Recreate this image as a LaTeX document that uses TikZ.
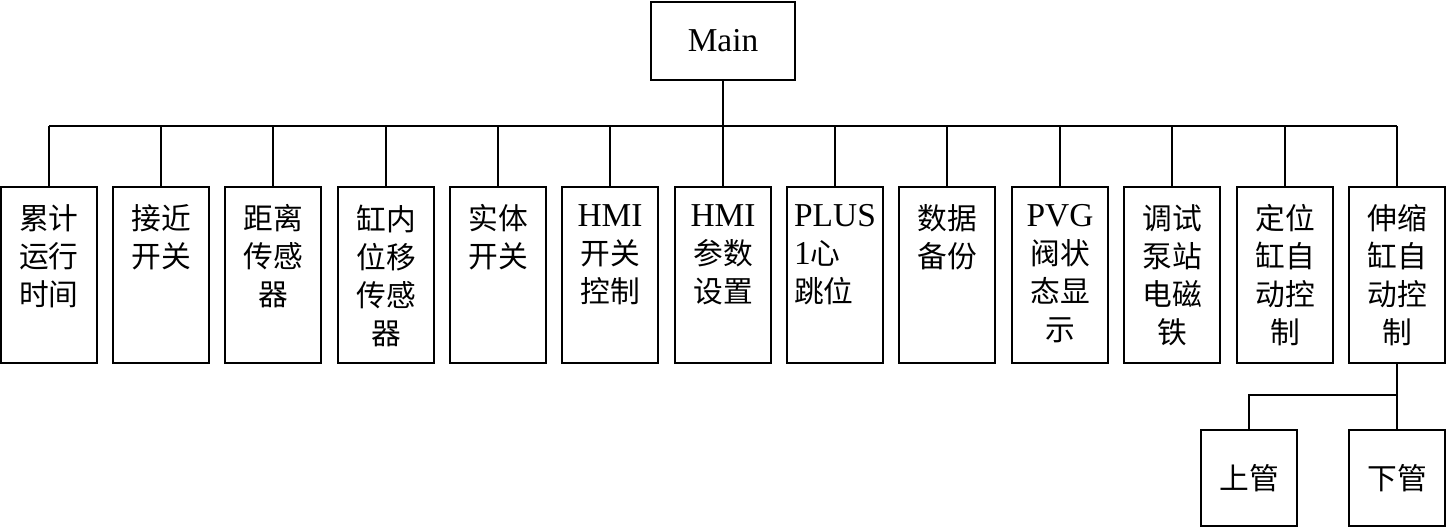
\documentclass[tikz,border=0pt]{standalone}
\usepackage{fontspec}
\setmainfont{Liberation Serif}
\newfontfamily\cjk[Scale=0.89]{Noto Sans CJK SC}

\begin{document}
\begin{tikzpicture}[x=0.01cm, y=-0.01cm,
      box/.style={draw, line width=0.6pt, minimum width=0.96cm, minimum height=1.76cm, anchor=north, inner sep=0pt},
      txt/.style={anchor=north, align=center, inner sep=0pt, yshift=-0.18cm, font=\fontsize{9.5}{10.8}\selectfont},
      line/.style={line width=0.5pt}
    ]
      \useasboundingbox (0,0) rectangle (1446,528);

      % Main
      \node[draw, line width=0.6pt, minimum width=1.44cm, minimum height=0.78cm, font=\fontsize{9.5}{10.8}\selectfont] (main) at (723,41) {Main};

      % Modules
      \node[box] (b1) at (49,186) {};
      \node[box] (b2) at (161,186) {};
      \node[box] (b3) at (273,186) {};
      \node[box] (b4) at (386,186) {};
      \node[box] (b5) at (498,186) {};
      \node[box] (b6) at (610,186) {};
      \node[box] (b7) at (723,186) {};
      \node[box] (b8) at (835,186) {};
      \node[box] (b9) at (947,186) {};
      \node[box] (b10) at (1060,186) {};
      \node[box] (b11) at (1172,186) {};
      \node[box] (b12) at (1285,186) {};
      \node[box] (b13) at (1397,186) {};

      % Module texts
      \node[txt] (t1) at (b1.north) {\cjk 累计\\\cjk 运行\\\cjk 时间};
      \node[txt] (t2) at (b2.north) {\cjk 接近\\\cjk 开关};
      \node[txt] (t3) at (b3.north) {\cjk 距离\\\cjk 传感\\\cjk 器};
      \node[txt] (t4) at (b4.north) {\cjk 缸内\\\cjk 位移\\\cjk 传感\\\cjk 器};
      \node[txt] (t5) at (b5.north) {\cjk 实体\\\cjk 开关};
      \node[txt] (t6) at (b6.north) {HMI\\\cjk 开关\\\cjk 控制};
      \node[txt] (t7) at (b7.north) {HMI\\\cjk 参数\\\cjk 设置};
      \node[txt, align=left] (t8) at (b8.north) {PLUS\\1{\cjk 心}\\\cjk 跳位};
      \node[txt] (t9) at (b9.north) {\cjk 数据\\\cjk 备份};
      \node[txt] (t10) at (b10.north) {PVG\\\cjk 阀状\\\cjk 态显\\\cjk 示};
      \node[txt] (t11) at (b11.north) {\cjk 调试\\\cjk 泵站\\\cjk 电磁\\\cjk 铁};
      \node[txt] (t12) at (b12.north) {\cjk 定位\\\cjk 缸自\\\cjk 动控\\\cjk 制};
      \node[txt] (t13) at (b13.north) {\cjk 伸缩\\\cjk 缸自\\\cjk 动控\\\cjk 制};

      % Sub modules
      \node[box, anchor=center, minimum height=0.96cm, font=\fontsize{9.5}{10.8}\selectfont] (up) at (1249,478) {\cjk 上管};
      \node[box, anchor=center, minimum height=0.96cm, font=\fontsize{9.5}{10.8}\selectfont] (down) at (1397,478) {\cjk 下管};

      % Lines
      \coordinate (bus) at (0,126);
      \coordinate (sub) at (0,395);
      \draw[line] (main.south) -- (main.south |- bus);
      \draw[line] (b1.north |- bus) -- (b13.north |- bus);
      \draw[line] (b1.north) -- (b1.north |- bus);
      \draw[line] (b2.north) -- (b2.north |- bus);
      \draw[line] (b3.north) -- (b3.north |- bus);
      \draw[line] (b4.north) -- (b4.north |- bus);
      \draw[line] (b5.north) -- (b5.north |- bus);
      \draw[line] (b6.north) -- (b6.north |- bus);
      \draw[line] (b7.north) -- (b7.north |- bus);
      \draw[line] (b8.north) -- (b8.north |- bus);
      \draw[line] (b9.north) -- (b9.north |- bus);
      \draw[line] (b10.north) -- (b10.north |- bus);
      \draw[line] (b11.north) -- (b11.north |- bus);
      \draw[line] (b12.north) -- (b12.north |- bus);
      \draw[line] (b13.north) -- (b13.north |- bus);
      \draw[line] (b13.south) -- (down.north);
      \draw[line] (up.north) -- (up.north |- sub) -- (b13.south |- sub);
    \end{tikzpicture}
\end{document}
